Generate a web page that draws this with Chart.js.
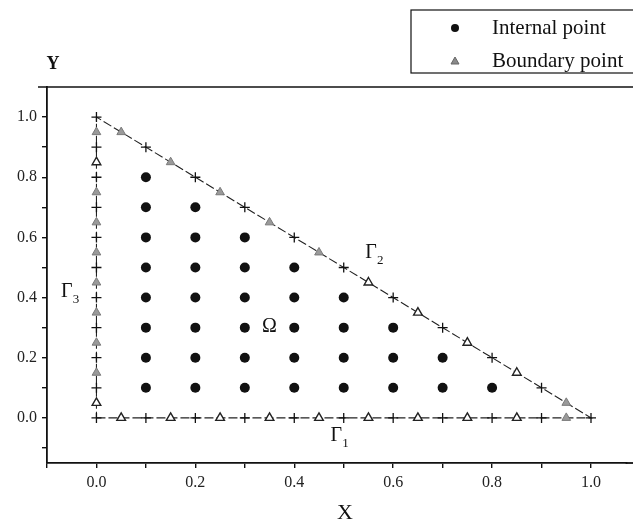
<!DOCTYPE html>
<html>
<head>
<meta charset="utf-8">
<script src="https://cdn.jsdelivr.net/npm/chart.js@4"></script>
<style>
  html, body { margin: 0; padding: 0; background: #fff; overflow: hidden; }
  #wrap { width: 633px; height: 525px; }
  #chart { display: block; }
</style>
</head>
<body>
<div id="wrap"><canvas id="chart" width="633" height="525"></canvas></div>
<script>
// interior collocation nodes
const internalPoints = [
  [0.1, 0.1], [0.1, 0.2], [0.1, 0.3], [0.1, 0.4], [0.1, 0.5], [0.1, 0.6], [0.1, 0.7], [0.1, 0.8],
  [0.2, 0.1], [0.2, 0.2], [0.2, 0.3], [0.2, 0.4], [0.2, 0.5], [0.2, 0.6], [0.2, 0.7],
  [0.3, 0.1], [0.3, 0.2], [0.3, 0.3], [0.3, 0.4], [0.3, 0.5], [0.3, 0.6],
  [0.4, 0.1], [0.4, 0.2], [0.4, 0.3], [0.4, 0.4], [0.4, 0.5],
  [0.5, 0.1], [0.5, 0.2], [0.5, 0.3], [0.5, 0.4],
  [0.6, 0.1], [0.6, 0.2], [0.6, 0.3],
  [0.7, 0.1], [0.7, 0.2],
  [0.8, 0.1]
];

// element end nodes on the boundary (+)
const elementNodes = [
  [0, 0], [0, 0.1], [0, 0.2], [0, 0.3], [0, 0.4], [0, 0.5], [0, 0.6], [0, 0.7], [0, 0.8], [0, 0.9], [0, 1.0],
  [0.1, 0], [0.2, 0], [0.3, 0], [0.4, 0], [0.5, 0], [0.6, 0], [0.7, 0], [0.8, 0], [0.9, 0], [1.0, 0],
  [0.1, 0.9], [0.2, 0.8], [0.3, 0.7], [0.4, 0.6], [0.5, 0.5], [0.6, 0.4], [0.7, 0.3], [0.8, 0.2], [0.9, 0.1]
];

// boundary points (element midpoints), split by how they are shaded
const boundaryShaded = [
  [0, 0.15], [0, 0.25], [0, 0.35], [0, 0.45], [0, 0.55], [0, 0.65], [0, 0.75], [0, 0.95],
  [0.05, 0.95], [0.15, 0.85], [0.25, 0.75], [0.35, 0.65], [0.45, 0.55], [0.95, 0.05],
  [0.95, 0]
];
const boundaryOpen = [
  [0, 0.05], [0, 0.85],
  [0.05, 0], [0.15, 0], [0.25, 0], [0.35, 0], [0.45, 0], [0.55, 0], [0.65, 0], [0.75, 0], [0.85, 0],
  [0.55, 0.45], [0.65, 0.35], [0.75, 0.25], [0.85, 0.15]
];

// domain outline Γ1 -> Γ2 -> Γ3
const outline = [[0, 0], [1, 0], [0, 1], [0, 0]];

// tick positions, labels every 0.2
const xTicks = [-0.1, 0, 0.1, 0.2, 0.3, 0.4, 0.5, 0.6, 0.7, 0.8, 0.9, 1.0];
const yTicks = [-0.1, 0, 0.1, 0.2, 0.3, 0.4, 0.5, 0.6, 0.7, 0.8, 0.9, 1.0];
const labelledTicks = [0, 0.2, 0.4, 0.6, 0.8, 1.0];

// region labels: [text, subscript, x, y]
const regionLabels = [
  ["Γ", "1", 0.485, -0.06],
  ["Γ", "2", 0.555, 0.55],
  ["Γ", "3", -0.06, 0.42],
  ["Ω", "", 0.35, 0.302]
];

const SERIF = "'Liberation Serif', 'DejaVu Serif', serif";
const INK = "#111";

const toXY = arr => arr.map(p => ({ x: p[0], y: p[1] }));

function tickLabel(v) {
  const hit = labelledTicks.some(t => Math.abs(t - v) < 1e-6);
  return hit ? v.toFixed(1) : "";
}

// frame line on top, axis titles, region labels and the boxed legend
const decorations = {
  id: "decorations",
  afterDraw(chart) {
    const ctx = chart.ctx;
    const area = chart.chartArea;
    const sx = chart.scales.x, sy = chart.scales.y;
    ctx.save();

    ctx.strokeStyle = INK;
    ctx.lineWidth = 1.6;
    ctx.beginPath();
    ctx.moveTo(area.left - 9, area.top);
    ctx.lineTo(chart.width, area.top);
    ctx.stroke();

    // x axis keeps running to the edge of the figure
    ctx.lineWidth = 1.8;
    ctx.beginPath();
    ctx.moveTo(area.right - 1, area.bottom);
    ctx.lineTo(chart.width, area.bottom);
    ctx.stroke();

    ctx.fillStyle = INK;
    ctx.textAlign = "center";
    ctx.textBaseline = "middle";
    ctx.font = "bold 18px " + SERIF;
    ctx.fillText("Y", 53, 64);
    ctx.font = "22px " + SERIF;
    ctx.fillText("X", 345, 513);

    regionLabels.forEach(([txt, sub, x, y]) => {
      const px = sx.getPixelForValue(x), py = sy.getPixelForValue(y);
      ctx.font = "20px " + SERIF;
      ctx.textAlign = "center";
      ctx.fillText(txt, px, py);
      if (sub) {
        ctx.font = "13px " + SERIF;
        ctx.textAlign = "left";
        ctx.fillText(sub, px + 6, py + 8);
      }
    });

    // legend box, running off the right edge
    ctx.lineWidth = 1.2;
    ctx.strokeRect(411, 10, 260, 63);
    ctx.fillStyle = INK;
    ctx.beginPath();
    ctx.arc(455, 28, 4, 0, Math.PI * 2);
    ctx.fill();
    ctx.fillStyle = "#8a8a8a";
    ctx.strokeStyle = "#666";
    ctx.lineWidth = 1;
    ctx.beginPath();
    ctx.moveTo(455, 57);
    ctx.lineTo(459, 64);
    ctx.lineTo(451, 64);
    ctx.closePath();
    ctx.fill();
    ctx.stroke();
    ctx.fillStyle = INK;
    ctx.font = "21px " + SERIF;
    ctx.textAlign = "left";
    ctx.fillText("Internal point", 492, 28);
    ctx.fillText("Boundary point", 492, 61);

    ctx.restore();
  }
};

const axisCommon = {
  type: "linear",
  border: { display: true, color: INK, width: 1.8 },
  grid: { drawOnChartArea: false, drawTicks: true, tickLength: 5, color: INK, lineWidth: 1.4 },
  ticks: {
    autoSkip: false,
    padding: 5,
    color: "#222",
    font: { family: SERIF, size: 16 },
    callback: v => tickLabel(v)
  }
};

new Chart(document.getElementById("chart"), {
  type: "scatter",
  data: {
    datasets: [
      {
        label: "Internal point",
        data: toXY(internalPoints),
        pointStyle: "circle",
        pointRadius: 5,
        backgroundColor: INK,
        borderColor: INK,
        borderWidth: 0,
        order: 1
      },
      {
        label: "Boundary point",
        data: toXY(boundaryShaded),
        pointStyle: "triangle",
        pointRadius: 5,
        backgroundColor: "#9a9a9a",
        borderColor: "#7a7a7a",
        borderWidth: 1,
        order: 2
      },
      {
        label: "Boundary point",
        data: toXY(boundaryOpen),
        pointStyle: "triangle",
        pointRadius: 5,
        backgroundColor: "#fff",
        borderColor: "#222",
        borderWidth: 1.4,
        order: 2
      },
      {
        label: "Element node",
        data: toXY(elementNodes),
        pointStyle: "cross",
        pointRadius: 5,
        borderColor: INK,
        borderWidth: 1.3,
        order: 3
      },
      {
        label: "Boundary",
        type: "line",
        data: toXY(outline),
        showLine: true,
        pointRadius: 0,
        borderColor: "#222",
        borderWidth: 1.1,
        borderDash: [9, 3],
        tension: 0,
        fill: false,
        order: 4
      }
    ]
  },
  options: {
    responsive: false,
    animation: false,
    layout: { padding: { top: 87, right: 0, left: 0, bottom: 0 } },
    plugins: {
      legend: { display: false },
      tooltip: { enabled: false }
    },
    scales: {
      x: Object.assign({}, axisCommon, {
        min: -0.1,
        max: 1.072,
        afterBuildTicks: s => { s.ticks = xTicks.map(v => ({ value: v })); },
        afterFit: s => { s.height = 62; }
      }),
      y: Object.assign({}, axisCommon, {
        min: -0.15,
        max: 1.1,
        afterBuildTicks: s => { s.ticks = yTicks.map(v => ({ value: v })); },
        afterFit: s => { s.width = 47; }
      })
    }
  },
  plugins: [decorations]
});
</script>
</body>
</html>
